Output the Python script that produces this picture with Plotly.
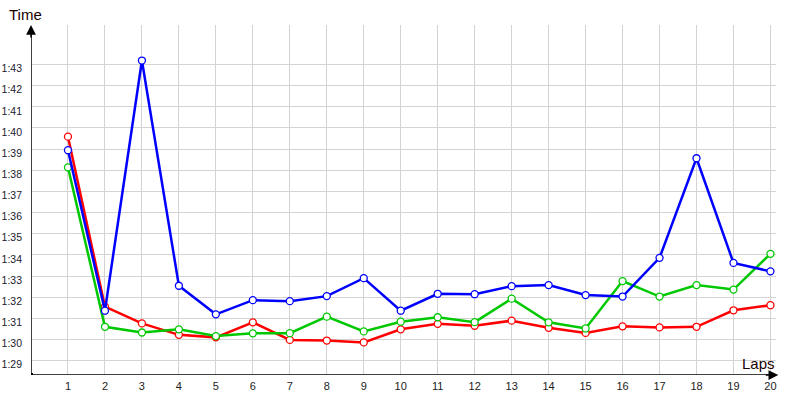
import plotly.graph_objects as go

laps = list(range(1, 21))

red_times = [99.59, 91.55, 90.76, 90.22, 90.10, 90.81, 89.98, 89.95, 89.86, 90.48,
             90.74, 90.65, 90.89, 90.55, 90.31, 90.62, 90.57, 90.60, 91.38, 91.62]
blue_times = [98.95, 91.36, 103.19, 92.54, 91.19, 91.86, 91.81, 92.05, 92.90, 91.36,
              92.16, 92.14, 92.52, 92.57, 92.10, 92.03, 93.86, 98.57, 93.62, 93.22]
green_times = [98.14, 90.60, 90.33, 90.48, 90.16, 90.29, 90.30, 91.08, 90.38, 90.84,
               91.05, 90.82, 91.93, 90.81, 90.52, 92.76, 92.03, 92.57, 92.36, 94.05]

y_tick_vals = list(range(89, 104))
y_tick_text = ["1:%02d" % (v - 60) for v in y_tick_vals]

series = [
    ("red", red_times, "#ff0000"),
    ("green", green_times, "#00c800"),
    ("blue", blue_times, "#0000ff"),
]

fig = go.Figure()
for name, vals, col in series:
    fig.add_trace(go.Scatter(
        x=laps, y=vals, mode="lines+markers", name=name,
        line=dict(color=col, width=2.5),
        marker=dict(symbol="circle", size=7, color="white",
                    line=dict(color=col, width=1.3)),
        showlegend=False, hoverinfo="skip",
    ))

Y0, Y1 = 88.32, 104.87
fig.update_layout(
    width=800, height=400,
    margin=dict(l=31, r=24, t=25, b=25),
    paper_bgcolor="white", plot_bgcolor="white",
    font=dict(family="Liberation Sans, Arial, sans-serif", color="#222222"),
    xaxis=dict(range=[0, 20.15], tickvals=laps, ticktext=[str(l) for l in laps],
               showgrid=True, gridcolor="#d3d3d3", gridwidth=1, zeroline=False,
               showline=False, ticks="", tickfont=dict(size=11, color="#222222"),
               ticklabelstandoff=3, automargin=False),
    yaxis=dict(range=[Y0, Y1], tickvals=y_tick_vals, ticktext=y_tick_text,
               showgrid=True, gridcolor="#d3d3d3", gridwidth=1, zeroline=False,
               showline=False, ticks="", tickfont=dict(size=10.5, color="#1a1a2e"),
               ticklabelshift=4, ticklabelstandoff=8, automargin=False),
    shapes=[
        dict(type="line", xref="x", yref="paper", x0=0, x1=0, y0=0, y1=0.98,
             line=dict(color="black", width=1.5)),
        dict(type="line", xref="paper", yref="y", x0=0, x1=0.99, y0=Y0, y1=Y0,
             line=dict(color="black", width=1.5)),
        dict(type="rect", xref="x", yref="y", xsizemode="pixel", ysizemode="pixel",
             xanchor=0, yanchor=Y0, x0=-2, x1=2, y0=-2, y1=2,
             fillcolor="black", line=dict(width=0)),
    ],
    annotations=[
        dict(text="", xref="x", yref="paper", x=0, y=1.0, ax=0, ay=14,
             showarrow=True, arrowhead=2, arrowsize=1.3, arrowwidth=1.5,
             arrowcolor="black", standoff=0, startstandoff=0),
        dict(text="", xref="paper", yref="y", x=1.003, y=Y0, ax=-14, ay=0,
             showarrow=True, arrowhead=2, arrowsize=1.3, arrowwidth=1.5,
             arrowcolor="black", standoff=0, startstandoff=0),
        dict(text="Time", xref="paper", yref="paper", x=-0.008, y=1.029,
             xanchor="center", yanchor="middle", showarrow=False,
             font=dict(size=15, color="#1a0000")),
        dict(text="Laps", xref="paper", yref="paper", x=0.9765, y=0.034,
             xanchor="center", yanchor="middle", showarrow=False,
             font=dict(size=15, color="#1a0000")),
    ],
)

fig.write_html(
    "out.html",
    config={"displayModeBar": False},
    post_script="document.body.style.margin='0';document.body.style.overflow='hidden';",
)
